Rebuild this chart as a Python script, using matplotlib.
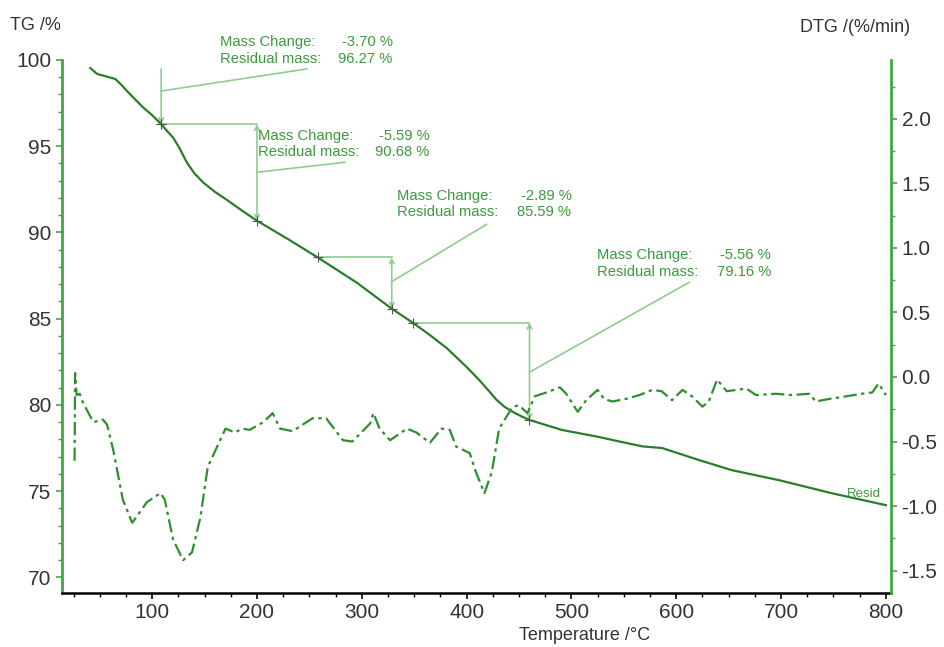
import numpy as np
import matplotlib.pyplot as plt
from matplotlib.ticker import MultipleLocator

plt.rcParams["font.family"] = ["Liberation Sans", "DejaVu Sans"]

# TG curve (temperature in °C, mass in %)
tg_temp = [41, 47.6, 56, 64.8, 70, 76, 84, 91, 100, 108.6, 114, 120, 126, 133, 140,
           148.6, 160, 171, 185, 200, 230, 258, 295, 328.6, 348.6, 365, 381, 400,
           412, 420, 428.5, 436, 444, 452, 460, 491, 526.7, 539, 567.6, 586.7, 622,
           653, 698, 748.6, 800]
tg_mass = [99.53, 99.19, 99.05, 98.9, 98.6, 98.2, 97.7, 97.27, 96.8, 96.28, 95.9,
           95.5, 94.9, 94.07, 93.45, 92.9, 92.35, 91.9, 91.3, 90.68, 89.6, 88.55,
           87.1, 85.58, 84.77, 84.05, 83.3, 82.2, 81.45, 80.9, 80.3, 79.9, 79.6,
           79.35, 79.13, 78.55, 78.14, 77.97, 77.6, 77.5, 76.8, 76.22, 75.64,
           74.88, 74.19]

# DTG curve (%/min)
dtg_temp = [26, 26.5, 28, 31, 33, 36, 44, 53, 57, 63, 72, 81, 95, 108, 112, 120,
            129.5, 138, 146, 153, 162, 170, 179, 186, 193, 206, 215, 222, 234, 253,
            266, 282, 291, 308, 311, 317, 327, 343, 352, 365, 376, 384, 390, 403,
            409, 417, 424, 431, 444, 450, 458, 465, 476, 489, 495, 506, 514, 525,
            531, 539, 552, 565, 577, 586, 596, 606, 615, 625, 631, 639, 648, 667,
            676, 695, 710, 727, 733, 746, 762, 777, 787, 793, 800]
dtg_val = [-0.65, 0.03, -0.14, -0.13, -0.18, -0.23, -0.35, -0.33, -0.37, -0.57,
           -0.95, -1.13, -0.97, -0.90, -0.95, -1.26, -1.42, -1.36, -1.09, -0.70,
           -0.54, -0.40, -0.43, -0.40, -0.41, -0.35, -0.28, -0.40, -0.42, -0.32,
           -0.32, -0.49, -0.50, -0.36, -0.28, -0.40, -0.49, -0.40, -0.43, -0.51,
           -0.40, -0.41, -0.54, -0.59, -0.74, -0.90, -0.74, -0.40, -0.23, -0.22,
           -0.28, -0.15, -0.12, -0.08, -0.13, -0.27, -0.18, -0.10, -0.17, -0.19,
           -0.17, -0.14, -0.10, -0.11, -0.18, -0.10, -0.15, -0.23, -0.19, -0.02,
           -0.11, -0.09, -0.14, -0.13, -0.14, -0.13, -0.19, -0.17, -0.15, -0.13,
           -0.12, -0.05, -0.14]

# mass-loss steps: start point, end point, text values
step_start_t = [108.6, 108.6, 258, 348.6]
step_start_m = [99.48, 96.28, 88.55, 84.77]
step_end_t = [108.6, 200, 328.6, 460]
step_end_m = [96.28, 90.68, 85.58, 79.13]
mass_change = ["-3.70 %", "-5.59 %", "-2.89 %", "-5.56 %"]
residual = ["96.27 %", "90.68 %", "85.59 %", "79.16 %"]

dark_green = "#2a7d2a"
line_green = "#8fcc8f"
text_green = "#3c9a3c"
spine_green = "#3fa83f"
label_gray = "#333333"

fig = plt.figure(figsize=(9.45, 6.47), dpi=100)
ax = fig.add_axes([0.0656, 0.0835, 0.8774, 0.8238])
ax2 = ax.twinx()

ax.plot(tg_temp, tg_mass, color=dark_green, lw=1.6, zorder=3)
ax2.plot(dtg_temp, dtg_val, color="#2f8f2f", lw=1.6, linestyle=(0, (6, 2, 1.5, 2)))

ax.set_xlim(14, 805)
ax.set_ylim(69.1, 100.0)
ax2.set_ylim(-1.674, 2.457)

# step annotations: text x-left, line-1 y, line-2 y, x-right
text_pos = [(164.8, 101.05, 100.06, 329.5), (201, 95.58, 94.65, 364.8),
            (334, 92.09, 91.16, 500), (524.8, 88.72, 87.73, 690.5)]
leader_start = [98.2, 93.49, 87.15, 81.9]
leader_end = [(247.6, 99.48), (283.8, 94.07), (419, 90.47), (612, 87.1)]
for i in range(4):
    if i > 0:
        ax.plot([step_start_t[i], step_end_t[i]], [step_start_m[i], step_start_m[i]],
                color=line_green, lw=1.2, zorder=2)
        ax.plot(step_start_t[i], step_start_m[i], linestyle="none", marker="+",
                color="#555555", ms=7, mew=0.8, zorder=4)
        style = "<->"
    else:
        style = "->"
    ax.annotate("", xy=(step_end_t[i], step_end_m[i]), xytext=(step_end_t[i], step_start_m[i]),
                arrowprops=dict(arrowstyle=style, color=line_green, lw=1.2,
                                mutation_scale=8, shrinkA=0, shrinkB=0), zorder=2)
    ax.plot([step_end_t[i], leader_end[i][0]], [leader_start[i], leader_end[i][1]],
            color=line_green, lw=1.2, zorder=2)
    ax.plot(step_end_t[i], step_end_m[i], linestyle="none", marker="+",
            color="#555555", ms=7, mew=0.8, zorder=4)
    x0, y1, y2, x1 = text_pos[i]
    ax.text(x0, y1, "Mass Change:", color=text_green, fontsize=10.6,
            ha="left", va="center", clip_on=False)
    ax.text(x0, y2, "Residual mass:", color=text_green, fontsize=10.6,
            ha="left", va="center", clip_on=False)
    ax.text(x1, y1, mass_change[i], color=text_green, fontsize=10.6,
            ha="right", va="center", clip_on=False)
    ax.text(x1, y2, residual[i], color=text_green, fontsize=10.6,
            ha="right", va="center", clip_on=False)

ax.text(763, 74.83, "Resid", color=text_green, fontsize=9.5, ha="left", va="center")

# axes styling
ax.xaxis.set_major_locator(MultipleLocator(100))
ax.xaxis.set_minor_locator(MultipleLocator(25))
ax.yaxis.set_major_locator(MultipleLocator(5))
ax.yaxis.set_minor_locator(MultipleLocator(1))
ax2.yaxis.set_major_locator(MultipleLocator(0.5))
ax2.yaxis.set_minor_locator(MultipleLocator(0.25))
ax2.yaxis.set_major_formatter(plt.FormatStrFormatter("%.1f"))
ax.set_xticks([100, 200, 300, 400, 500, 600, 700, 800])

for s in ["top", "right"]:
    ax.spines[s].set_visible(False)
for s in ["top", "left", "bottom"]:
    ax2.spines[s].set_visible(False)
ax.spines["left"].set_color(spine_green)
ax.spines["left"].set_linewidth(2)
ax2.spines["right"].set_color(spine_green)
ax2.spines["right"].set_linewidth(2)
ax.spines["bottom"].set_color("black")
ax.spines["bottom"].set_linewidth(1.8)

ax.tick_params(axis="x", which="major", length=4, width=1.2, colors="black",
               labelcolor=label_gray, labelsize=15, pad=3)
ax.tick_params(axis="x", which="minor", length=3, width=1, colors="black")
ax.tick_params(axis="y", which="major", length=4, width=1.2, colors=spine_green,
               labelcolor=label_gray, labelsize=15)
ax.tick_params(axis="y", which="minor", length=3, width=1, colors=spine_green)
ax2.tick_params(axis="y", which="major", length=4, width=1.2, colors=spine_green,
                labelcolor=label_gray, labelsize=15)
ax2.tick_params(axis="y", which="minor", length=3, width=1, colors=spine_green)

fig.text(0.011, 1 - 25 / 647, "TG /%", fontsize=13, color=label_gray, ha="left", va="center")
fig.text(0.847, 1 - 28 / 647, "DTG /(%/min)", fontsize=13, color=label_gray, ha="left", va="center")
fig.text(585 / 945, 1 - 636 / 647, "Temperature /°C", fontsize=13, color=label_gray,
         ha="center", va="center")

fig.savefig("out.png", dpi=100)
